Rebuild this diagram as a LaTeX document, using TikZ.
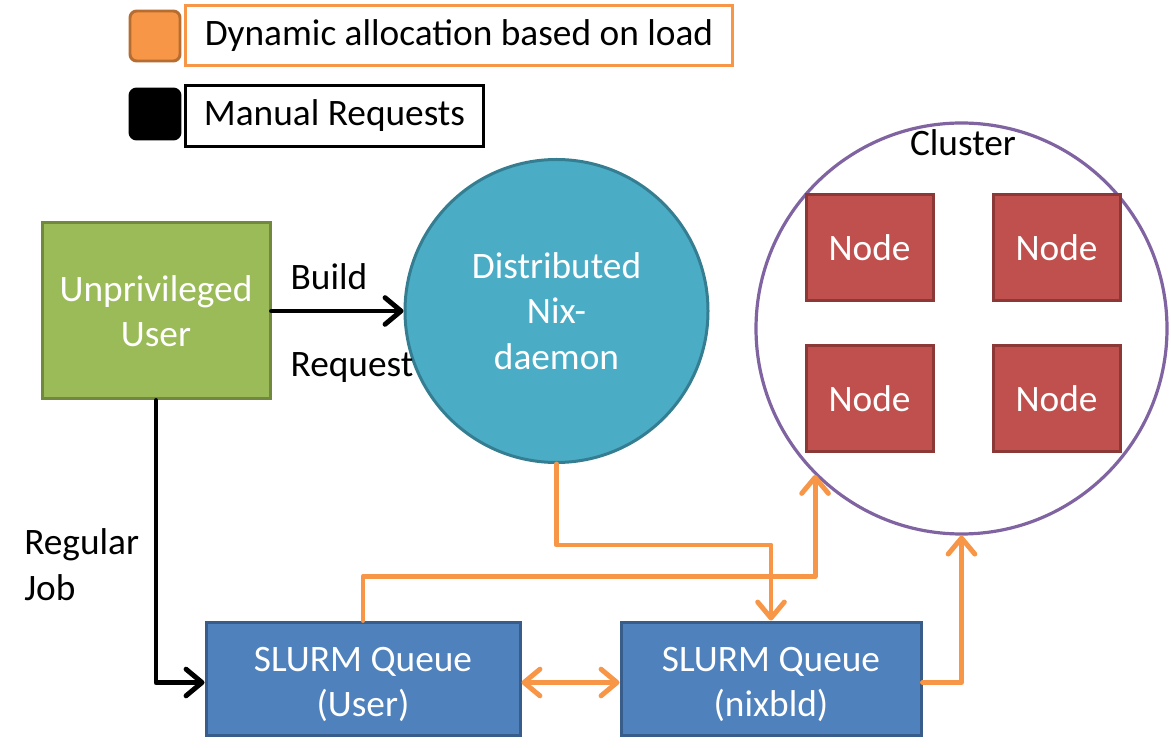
\documentclass[tikz,border=0pt]{standalone}
\usepackage{fontspec}
\setmainfont{Carlito}
\usetikzlibrary{arrows.meta}
\definecolor{orgfill}{HTML}{F79646}
\definecolor{orgdark}{HTML}{B66D31}
\definecolor{grnfill}{HTML}{9BBB59}
\definecolor{grndark}{HTML}{71893F}
\definecolor{tealfill}{HTML}{4BACC6}
\definecolor{tealdark}{HTML}{357D91}
\definecolor{bluefill}{HTML}{4F81BD}
\definecolor{bluedark}{HTML}{385D8A}
\definecolor{redfill}{HTML}{C0504D}
\definecolor{reddark}{HTML}{8C3836}
\definecolor{purp}{HTML}{8064A2}
\tikzset{
  txt/.style={font=\fontsize{28}{34}\selectfont, align=center, inner sep=0pt},
  box/.style={txt, rectangle, line width=2.25pt, text=white},
  greenbox/.style={box, fill=grnfill, draw=grndark},
  bluebox/.style={box, fill=bluefill, draw=bluedark},
  redbox/.style={box, fill=redfill, draw=reddark, minimum width={127*0.75pt}, minimum height={106*0.75pt}},
  tip/.tip={Straight Barb[length=12pt,width=20pt,line cap=round,line join=round]},
  conn/.style={line width=3.7pt, line cap=round, line join=round, -tip},
  blk/.style={conn, draw=black},
  org/.style={conn, draw=orgfill},
  legsq/.style={rectangle, rounded corners=5pt, minimum width={50*0.75pt}, minimum height={50*0.75pt}, line width=2.2pt},
  legbox/.style={txt, rectangle, line width=2.25pt},
}
\begin{document}
\begin{tikzpicture}[x=0.75pt,y=-0.75pt]
\useasboundingbox (0,0) rectangle (1171,748);

% legend
\node[legsq, fill=orgfill, draw=orgdark] (sqorg) at (155,36) {};
\node[legbox, draw=orgfill, minimum width={547*0.75pt}, minimum height={60*0.75pt}] (legorg) at (459,35.5) {Dynamic allocation based on load};
\node[legsq, fill=black, draw=black] (sqblk) at (155,114) {};
\node[legbox, draw=black, minimum width={298*0.75pt}, minimum height={61*0.75pt}] (legblk) at (334.5,116) {Manual Requests};

% main shapes
\node[greenbox, minimum width={228*0.75pt}, minimum height={176*0.75pt}] (user) at (156,311) {Unprivileged\\User};
\node[box, circle, fill=tealfill, draw=tealdark, minimum size={303*0.75pt}] (daemon) at (556.5,311) {Distributed\\Nix-\\daemon};
\node[circle, draw=purp, line width=2.4pt, minimum size={411*0.75pt}, inner sep=0pt] (cluster) at (961.5,328.5) {};
\node[txt] (clusterlbl) at (963,143) {Cluster};
\node[redbox] (n1) at (869.5,248) {Node};
\node[redbox] (n2) at (1056.5,248) {Node};
\node[redbox] (n3) at (869.5,399) {Node};
\node[redbox] (n4) at (1056.5,399) {Node};
\node[bluebox, minimum width={314*0.75pt}, minimum height={113*0.75pt}] (slurmU) at (363,678.5) {\raisebox{-4.5pt}[\height][\depth]{\shortstack{SLURM Queue\\[6.5pt](User)}}};
\node[bluebox, minimum width={300*0.75pt}, minimum height={113*0.75pt}] (slurmN) at (771,678.5) {\raisebox{-4.5pt}[\height][\depth]{\shortstack{SLURM Queue\\[6.5pt](nixbld)}}};

% labels
\node[txt] (build) at (329,277) {Build};
\node[txt] (request) at (352,368) {Request};
\node[txt, align=left, anchor=west] (regjob) at (24,564.5) {Regular\\Job};

% connectors
\draw[blk] (user.east) -- (daemon.west);
\draw[blk] (user.south) |- ([yshift=-3pt]slurmU.west);
\draw[org] (daemon.south) -- ++(0,81) -| (slurmN.north);
\draw[org] (slurmU.north) -- ++(0,-44) -| (cluster.225.7);
\draw[org] ([yshift=-3pt]slurmN.east) -| (cluster.south);
\draw[org, tip-tip] ([yshift=-3pt]slurmU.east) -- ([yshift=-3pt]slurmN.west);
\end{tikzpicture}
\end{document}
